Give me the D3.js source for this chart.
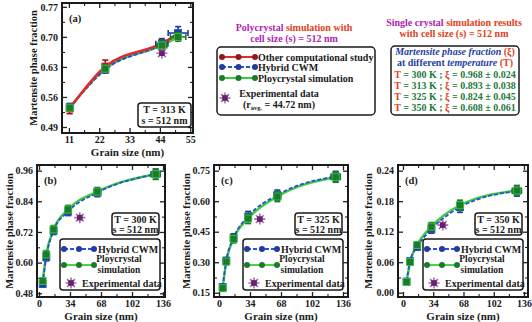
<!DOCTYPE html>
<html>
<head>
<meta charset="utf-8">
<script src="https://cdn.jsdelivr.net/npm/d3@7"></script>
<style>
  body { margin: 0; background: #fff; }
  svg text { font-family: "Liberation Serif", "Times New Roman", "DejaVu Serif", serif !important; font-weight: bold; fill: #1a1a1a; }
  .tick text { font-size: 10px; }
</style>
</head>
<body>
<svg id="chart" width="532" height="322"></svg>
<script>
// ---- data ----
// panel (a): T = 313 K
var grainA = [11.3, 24.2, 44.7, 50.6];
var otherA = [0.533, 0.631, 0.685, 0.706];
var otherAErr = [0.012, 0.015, 0.008, 0.008];
var hybridA = [0.536, 0.624, 0.684, 0.709];
var hybridAErr = [0.006, 0.008, 0.012, 0.015];
var hybridAXErr = [0.8, 1.0, 2.2, 3.6];
var polyA = [0.535, 0.626, 0.680, 0.700];
var polyAErr = [0.006, 0.008, 0.010, 0.010];
var polyAXErr = [0.6, 0.8, 1.8, 2.8];

// panels (b), (c), (d): T = 300, 325, 350 K
var grainBD = [4, 8, 16, 32, 64, 128];
var grainXErr = [1, 1.2, 1.5, 2, 3.5, 5];
var hybridB = [0.516, 0.622, 0.725, 0.800, 0.874, 0.946];
var polyB = [0.528, 0.632, 0.730, 0.808, 0.878, 0.946];
var errB = [0.012, 0.015, 0.015, 0.016, 0.016, 0.02];
var hybridC = [0.178, 0.308, 0.420, 0.525, 0.630, 0.722];
var polyC = [0.172, 0.303, 0.415, 0.515, 0.623, 0.718];
var errC = [0.012, 0.015, 0.02, 0.025, 0.025, 0.025];
var hybridD = [0.022, 0.062, 0.090, 0.125, 0.168, 0.200];
var polyD = [0.021, 0.060, 0.094, 0.130, 0.172, 0.201];
var errD = [0.003, 0.004, 0.006, 0.008, 0.01, 0.01];

// experimental data (r avg = 44.72 nm)
var expGrain = 44.72;
var expValues = { a: 0.662, b: 0.776, c: 0.512, d: 0.133 };

// tick labels
var ticksAx = [11, 22, 33, 44, 55];
var ticksAy = [0.49, 0.56, 0.63, 0.70, 0.77];
var ticksBDx = [0, 34, 68, 102, 136];
var ticksBy = [0.48, 0.60, 0.72, 0.84, 0.96];
var ticksCy = [0.15, 0.30, 0.45, 0.60, 0.75];
var ticksDy = [0.00, 0.06, 0.12, 0.18, 0.24];

// single crystal results
var singleT = ['300', '313', '325', '350'];
var singleXi = ['0.968', '0.893', '0.824', '0.608'];
var singleErr = ['0.024', '0.038', '0.045', '0.061'];

var C = {
    redLine: '#e8262a', redMark: '#8e1b1b',
    blueLine: '#2a4fd8', blueMark: '#1f3d9c',
    greenLine: '#3bcc3b', greenMark: '#1b7a2b',
    star: '#6b1f6f', starLight: '#a070b0',
    purple: '#b024b0', orange: '#e2401c', tGreen: '#1e7a3a', navy: '#1f3fa0'
};
var FS = '10px';

var svg = d3.select('#chart');

function zip(xs, ys) {
    return xs.map(function (v, i) { return [v, ys[i]]; });
}

function midpoints(t) {
    var out = [];
    for (var i = 0; i < t.length - 1; i++) { out.push((t[i] + t[i + 1]) / 2); }
    return out;
}

function drawPanel(opt) {
    var g = svg.append('g');
    var x = d3.scaleLinear().domain(opt.xd).range([opt.l, opt.r]);
    var y = d3.scaleLinear().domain(opt.yd).range([opt.b, opt.t]);
    var fy = d3.format(opt.yfmt);

    // major + minor ticks on all four sides, pointing inward
    var makers = [
        function () { return d3.axisBottom(x); },
        function () { return d3.axisTop(x); },
        function () { return d3.axisLeft(y); },
        function () { return d3.axisRight(y); }
    ];
    var shifts = ['translate(0,' + opt.b + ')', 'translate(0,' + opt.t + ')',
                  'translate(' + opt.l + ',0)', 'translate(' + opt.r + ',0)'];
    makers.forEach(function (mk, i) {
        var isY = i > 1;
        var vals = isY ? opt.yt : opt.xt;
        var labelled = i === 0 || i === 2;
        var ax = mk().tickValues(vals).tickSizeInner(-5).tickSizeOuter(0).tickPadding(isY ? 4 : 3)
            .tickFormat(labelled ? (isY ? fy : d3.format('d')) : '');
        var ag = g.append('g').attr('transform', shifts[i]).call(ax);
        ag.select('.domain').remove();
        ag.selectAll('.tick line').attr('stroke', '#222').attr('stroke-width', 1.3);
        var mg = g.append('g').attr('transform', shifts[i])
            .call(mk().tickValues(midpoints(vals)).tickSizeInner(-3).tickSizeOuter(0).tickFormat(''));
        mg.select('.domain').remove();
        mg.selectAll('.tick line').attr('stroke', '#222').attr('stroke-width', 1.1);
    });

    g.append('rect')
        .attr('x', opt.l).attr('y', opt.t)
        .attr('width', opt.r - opt.l).attr('height', opt.b - opt.t)
        .attr('fill', 'none').attr('stroke', '#1a1a1a').attr('stroke-width', 2);

    // axis titles
    g.append('text')
        .attr('transform', 'translate(' + opt.ylx + ',' + ((opt.t + opt.b) / 2) + ') rotate(-90)')
        .attr('text-anchor', 'middle').attr('dy', '0.35em')
        .style('font-size', '10.5px')
        .text('Martensite phase fraction');
    g.append('text')
        .attr('x', (opt.l + opt.r) / 2).attr('y', opt.b + 23)
        .attr('text-anchor', 'middle')
        .style('font-size', '11px')
        .text('Grain size (nm)');

    // panel letter
    g.append('text').attr('x', opt.l + 7).attr('y', opt.t + 19)
        .style('font-size', '10.5px').text(opt.label);

    var line = d3.line()
        .x(function (d) { return x(d[0]); })
        .y(function (d) { return y(d[1]); })
        .curve(d3.curveMonotoneX);

    // lines first
    opt.series.forEach(function (s) {
        g.append('path')
            .datum(zip(s.xs, s.ys))
            .attr('d', line)
            .attr('fill', 'none')
            .attr('stroke', s.line)
            .attr('stroke-width', s.width || 2)
            .attr('stroke-dasharray', s.dash || null);
    });

    // markers + error bars, first listed series ends up on top
    opt.series.slice().reverse().forEach(function (s) {
        var pts = s.xs.map(function (v, i) {
            return { x: v, y: s.ys[i], ye: s.yerr[i], xe: s.xerr ? s.xerr[i] : 0 };
        });
        var eg = g.append('g').attr('stroke', s.mark).attr('stroke-width', 1.6);
        pts.forEach(function (p) {
            var px = x(p.x), py = y(p.y);
            var y0 = y(p.y - p.ye), y1 = y(p.y + p.ye);
            eg.append('line').attr('x1', px).attr('x2', px).attr('y1', y0).attr('y2', y1);
            eg.append('line').attr('x1', px - 3).attr('x2', px + 3).attr('y1', y0).attr('y2', y0);
            eg.append('line').attr('x1', px - 3).attr('x2', px + 3).attr('y1', y1).attr('y2', y1);
            if (p.xe) {
                var x0 = x(p.x - p.xe), x1 = x(p.x + p.xe);
                eg.append('line').attr('x1', x0).attr('x2', x1).attr('y1', py).attr('y2', py);
                eg.append('line').attr('x1', x0).attr('x2', x0).attr('y1', py - 3).attr('y2', py + 3);
                eg.append('line').attr('x1', x1).attr('x2', x1).attr('y1', py - 3).attr('y2', py + 3);
            }
        });
        g.selectAll(null).data(pts).enter().append('rect')
            .attr('x', function (d) { return x(d.x) - 3.5; })
            .attr('y', function (d) { return y(d.y) - 3.5; })
            .attr('width', 7).attr('height', 7)
            .attr('fill', s.mark).attr('stroke', s.line).attr('stroke-width', 0.8);
    });

    drawStar(g, x(expGrain), y(opt.exp));
    return { x: x, y: y, g: g };
}

function drawStar(g, cx, cy) {
    var r = 5.5, d = '';
    for (var k = 0; k < 4; k++) {
        var a = k * Math.PI / 4;
        d += 'M' + (cx - r * Math.cos(a)) + ',' + (cy - r * Math.sin(a)) +
             'L' + (cx + r * Math.cos(a)) + ',' + (cy + r * Math.sin(a));
    }
    g.append('path').attr('d', d).attr('stroke', C.starLight).attr('stroke-width', 1.6);
    g.append('rect').attr('x', cx - 2.8).attr('y', cy - 2.8).attr('width', 5.6).attr('height', 5.6)
        .attr('fill', C.star);
}

function infoBox(g, x0, y0, w, h, lines, gap) {
    g.append('rect').attr('x', x0).attr('y', y0).attr('width', w).attr('height', h)
        .attr('rx', 3).attr('fill', '#fff').attr('stroke', '#1a1a1a').attr('stroke-width', 1.5);
    lines.forEach(function (t, i) {
        g.append('text').attr('x', x0 + w / 2).attr('y', y0 + 9.5 + i * gap)
            .attr('text-anchor', 'middle').style('font-size', FS).text(t);
    });
}

function legendLine(g, x0, yy, len, col, mark, dash) {
    g.append('line').attr('x1', x0).attr('x2', x0 + len).attr('y1', yy).attr('y2', yy)
        .attr('stroke', col).attr('stroke-width', 1.8).attr('stroke-dasharray', dash || null);
    [0, len / 2, len].forEach(function (o) {
        g.append('circle').attr('cx', x0 + o).attr('cy', yy).attr('r', 3).attr('fill', mark);
    });
}

function smallLegend(g, r, t) {
    var x0 = r - 105, w = 100;
    g.append('rect').attr('x', x0).attr('y', t).attr('width', w).attr('height', 51)
        .attr('rx', 3).attr('fill', '#fff').attr('stroke', '#1a1a1a').attr('stroke-width', 1.5);
    legendLine(g, x0 + 4, t + 10, 30, C.blueLine, C.blueMark, '4,2');
    legendLine(g, x0 + 4, t + 26, 30, C.greenLine, C.greenMark);
    g.append('text').attr('x', x0 + 38).attr('y', t + 13.5).style('font-size', FS).text('Hybrid CWM');
    g.append('text').attr('x', x0 + 59).attr('y', t + 23).attr('text-anchor', 'middle').style('font-size', '9.5px').text('Ploycrystal');
    g.append('text').attr('x', x0 + 59).attr('y', t + 33.5).attr('text-anchor', 'middle').style('font-size', '9.5px').text('simulation');
    drawStar(g, x0 + 11, t + 44);
    g.append('text').attr('x', x0 + 22).attr('y', t + 47.5).style('font-size', FS).text('Experimental data');
}

// ---- panel (a) ----
var pa = drawPanel({
    label: '(a)', l: 62, r: 193, t: 3, b: 133, xd: [8.5, 56], yd: [0.476, 0.779],
    xt: ticksAx, yt: ticksAy, yfmt: '.2f', ylx: 33, exp: expValues.a,
    series: [
        { xs: grainA, ys: polyA, yerr: polyAErr, xerr: polyAXErr, line: C.greenLine, mark: C.greenMark, width: 2.4 },
        { xs: grainA, ys: hybridA, yerr: hybridAErr, xerr: hybridAXErr, line: C.blueLine, mark: C.blueMark, dash: '4,2', width: 2.2 },
        { xs: grainA, ys: otherA, yerr: otherAErr, line: C.redLine, mark: C.redMark, width: 2.4 }
    ]
});
infoBox(pa.g, 138, 103, 53, 24, ['T = 313 K', 's = 512 nm'], 11.5);

// ---- panels (b), (c), (d) ----
var bdPanels = [
    { label: '(b)', l: 37, r: 165, xd: [-2.2, 138.2], yd: [0.4655, 0.982], yt: ticksBy, ylx: 9,
      hy: hybridB, po: polyB, err: errB, exp: expValues.b, temp: '300' },
    { label: '(c)', l: 214, r: 348, xd: [-5.5, 141.5], yd: [0.129, 0.778], yt: ticksCy, ylx: 186,
      hy: hybridC, po: polyC, err: errC, exp: expValues.c, temp: '325' },
    { label: '(d)', l: 398, r: 528, xd: [-5.6, 140.5], yd: [-0.0085, 0.2512], yt: ticksDy, ylx: 368,
      hy: hybridD, po: polyD, err: errD, exp: expValues.d, temp: '350' }
];
bdPanels.forEach(function (p) {
    var res = drawPanel({
        label: p.label, l: p.l, r: p.r, t: 165, b: 297, xd: p.xd, yd: p.yd,
        xt: ticksBDx, yt: p.yt, yfmt: '.2f', ylx: p.ylx, exp: p.exp,
        series: [
            { xs: grainBD, ys: p.po, yerr: p.err, xerr: grainXErr, line: C.greenLine, mark: C.greenMark, width: 2.4 },
            { xs: grainBD, ys: p.hy, yerr: p.err, xerr: grainXErr, line: C.blueLine, mark: C.blueMark, dash: '4,2', width: 1.8 }
        ]
    });
    infoBox(res.g, p.r - 53, 213, 47, 22, ['T = ' + p.temp + ' K', 's = 512 nm'], 10);
    smallLegend(res.g, p.r, 239);
});

// ---- upper-right legend block ----
var head = svg.append('g');
var t1 = head.append('text').attr('x', 294).attr('y', 31).attr('text-anchor', 'middle').style('font-size', FS);
t1.append('tspan').style('fill', C.purple).text('Polycrystal ');
t1.append('tspan').style('fill', C.orange).text('simulation with');
head.append('text').attr('x', 294).attr('y', 42).attr('text-anchor', 'middle').style('font-size', FS)
    .style('fill', C.purple).text('cell size (s) = 512 nm');

head.append('rect').attr('x', 217).attr('y', 47).attr('width', 158).attr('height', 68)
    .attr('rx', 4).attr('fill', '#fff').attr('stroke', '#1a1a1a').attr('stroke-width', 1.5);
legendLine(head, 222, 57, 33, C.redLine, C.redMark);
legendLine(head, 222, 67, 33, C.blueLine, C.blueMark, '4,2');
legendLine(head, 222, 78, 33, C.greenLine, C.greenMark);
[['Other computational study', 60.5], ['Hybrid CWM', 70.5], ['Ploycrystal simulation', 81.5]].forEach(function (d) {
    head.append('text').attr('x', 258).attr('y', d[1]).style('font-size', FS).text(d[0]);
});
drawStar(head, 225, 98);
head.append('text').attr('x', 279).attr('y', 96.5).attr('text-anchor', 'middle').style('font-size', FS).text('Experimental data');
var rt = head.append('text').attr('x', 279).attr('y', 107.5).attr('text-anchor', 'middle').style('font-size', FS);
rt.append('tspan').text('(r');
rt.append('tspan').attr('dy', 2.5).style('font-size', '6.5px').text('avg.');
rt.append('tspan').attr('dy', -2.5).text(' = 44.72 nm)');

var s1 = head.append('text').attr('x', 454).attr('y', 26).attr('text-anchor', 'middle').style('font-size', FS);
s1.append('tspan').style('fill', C.purple).text('Single crystal ');
s1.append('tspan').style('fill', C.orange).text('simulation results');
head.append('text').attr('x', 454).attr('y', 37).attr('text-anchor', 'middle').style('font-size', FS)
    .style('fill', C.orange).text('with cell size (s) = 512 nm');

head.append('rect').attr('x', 391).attr('y', 46).attr('width', 128).attr('height', 69)
    .attr('rx', 4).attr('fill', '#fff').attr('stroke', '#1a1a1a').attr('stroke-width', 1.5);
var h1 = head.append('text').attr('x', 455).attr('y', 55).attr('text-anchor', 'middle').style('font-size', FS);
h1.append('tspan').style('fill', C.navy).style('font-style', 'italic').text('Martensite phase fraction ');
h1.append('tspan').style('fill', C.orange).text('(ξ)');
var h2 = head.append('text').attr('x', 455).attr('y', 66).attr('text-anchor', 'middle').style('font-size', FS);
h2.append('tspan').style('fill', C.navy).text('at different ');
h2.append('tspan').style('fill', C.navy).style('font-style', 'italic').text('temperature ');
h2.append('tspan').style('fill', C.orange).text('(T)');
singleT.forEach(function (tv, i) {
    var tx = head.append('text').attr('x', 455).attr('y', 77.5 + i * 11.3).attr('text-anchor', 'middle').style('font-size', FS);
    tx.append('tspan').style('fill', C.orange).text('T');
    tx.append('tspan').style('fill', C.tGreen).text(' = ' + tv + ' K ; ');
    tx.append('tspan').style('fill', C.orange).text('ξ');
    tx.append('tspan').style('fill', C.tGreen).text(' = ' + singleXi[i] + ' ± ' + singleErr[i]);
});
</script>
</body>
</html>
